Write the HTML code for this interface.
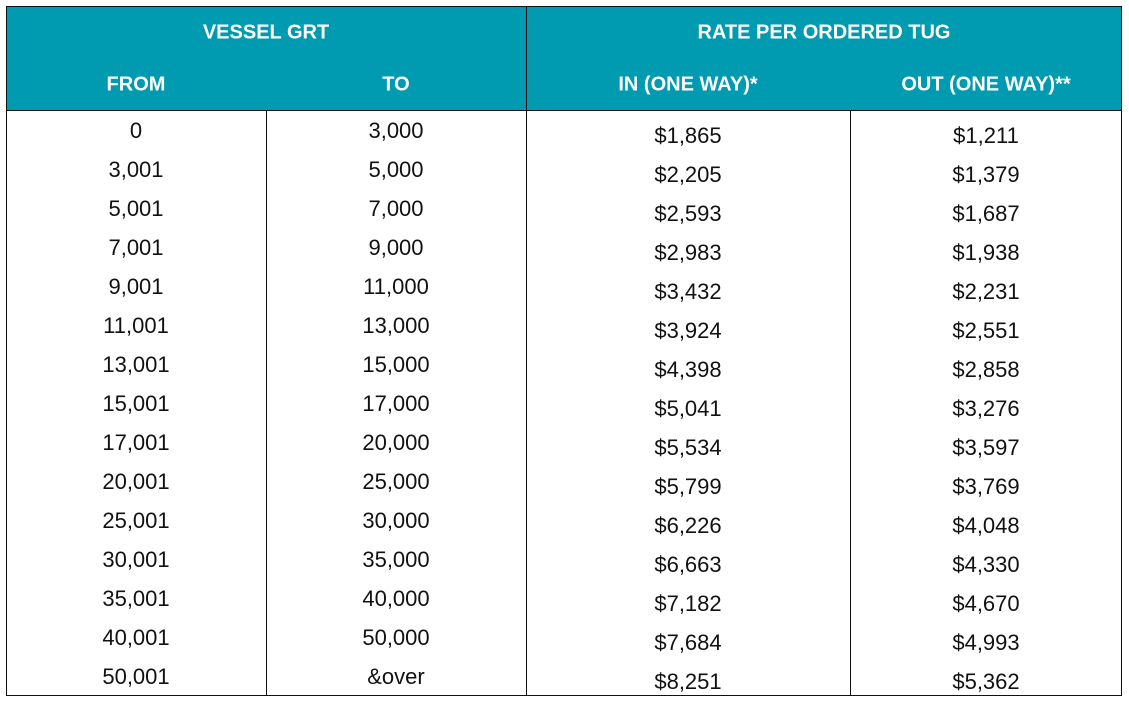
<!DOCTYPE html>
<html><head><meta charset="utf-8"><style>
body{margin:0;width:1129px;height:704px;background:#fff;position:relative;overflow:hidden;font-family:"Liberation Sans",sans-serif}
.hdr{position:absolute;left:6px;top:6px;width:1116px;height:105px;background:#019bb1;border:1px solid #111;box-sizing:border-box}
.ln{position:absolute;background:#111}
.t{position:absolute;transform:translate(-50%,-50%);white-space:nowrap}
.h{color:#fff;font-weight:bold;font-size:20px}
.c{font-size:22px;color:#111}
</style></head><body>
<div class="hdr"></div>
<div class="ln" style="left:6px;top:6px;width:1px;height:690px"></div>
<div class="ln" style="left:1121px;top:6px;width:1px;height:690px"></div>
<div class="ln" style="left:526px;top:6px;width:1px;height:690px"></div>
<div class="ln" style="left:266px;top:110px;width:1px;height:586px"></div>
<div class="ln" style="left:850px;top:110px;width:1px;height:586px"></div>
<div class="ln" style="left:6px;top:110px;width:1116px;height:1px"></div>
<div class="ln" style="left:6px;top:695px;width:1116px;height:1px"></div>
<div class="t h" style="left:266px;top:33px">VESSEL GRT</div>
<div class="t h" style="left:824px;top:33px">RATE PER ORDERED TUG</div>
<div class="t h" style="left:136px;top:85px">FROM</div>
<div class="t h" style="left:396px;top:85px">TO</div>
<div class="t h" style="left:688px;top:85px">IN (ONE WAY)*</div>
<div class="t h" style="left:986px;top:85px">OUT (ONE WAY)**</div>
<div id="rows"></div>
<script>
const fromVals=["0","3,001","5,001","7,001","9,001","11,001","13,001","15,001","17,001","20,001","25,001","30,001","35,001","40,001","50,001"];
const toVals=["3,000","5,000","7,000","9,000","11,000","13,000","15,000","17,000","20,000","25,000","30,000","35,000","40,000","50,000","&over"];
const inVals=["$1,865","$2,205","$2,593","$2,983","$3,432","$3,924","$4,398","$5,041","$5,534","$5,799","$6,226","$6,663","$7,182","$7,684","$8,251"];
const outVals=["$1,211","$1,379","$1,687","$1,938","$2,231","$2,551","$2,858","$3,276","$3,597","$3,769","$4,048","$4,330","$4,670","$4,993","$5,362"];
const root=document.getElementById('rows');
const cols=[[fromVals,136,131,'from-cell'],[toVals,396,131,'to-cell'],[inVals,688,136,'in-rate-cell'],[outVals,986,136,'out-rate-cell']];
cols.forEach(([arr,x,y0,nm])=>{arr.forEach((v,i)=>{
const d=document.createElement('div');d.className='t c';
d.style.left=x+'px';d.style.top=(y0+39*i)+'px';d.textContent=v;


root.appendChild(d);});});
</script>
</body></html>
